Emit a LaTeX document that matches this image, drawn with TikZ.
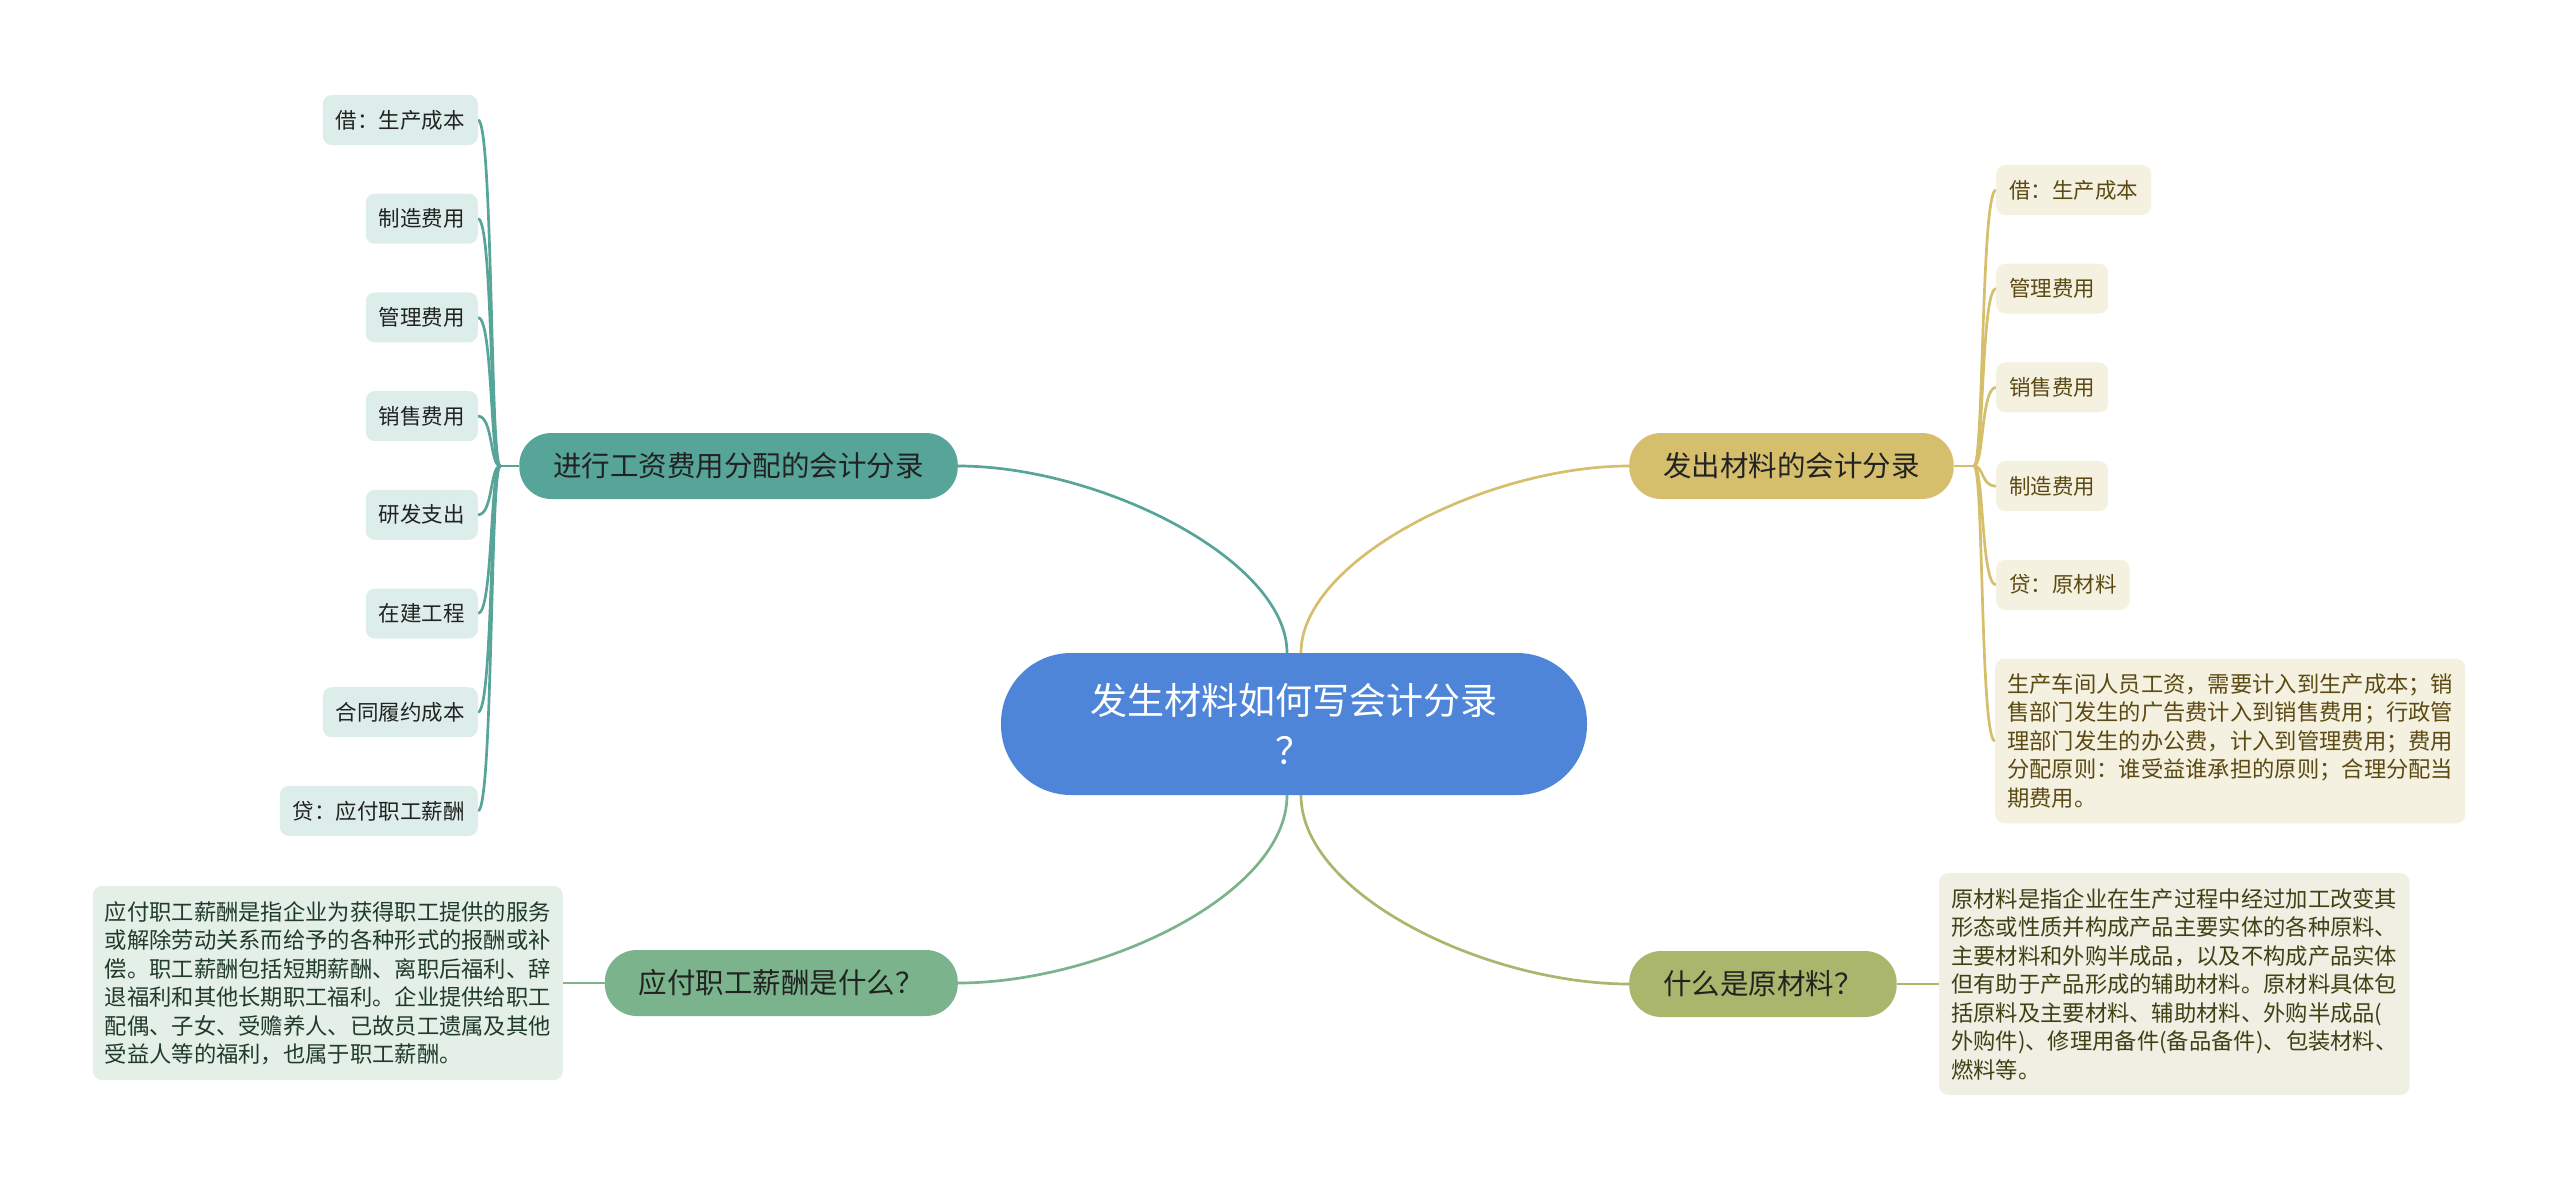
\documentclass[tikz,border=0pt]{standalone}
\usepackage{fontspec}
\usepackage{tikz}
\usetikzlibrary{positioning, backgrounds, calc}
\newfontfamily\cjk{Noto Sans CJK SC}
\definecolor{rootblue}{RGB}{78,133,216}
\definecolor{wageteal}{RGB}{87,164,152}
\definecolor{wagelight}{RGB}{221,237,234}
\definecolor{paygreen}{RGB}{122,179,140}
\definecolor{paylight}{RGB}{228,239,232}
\definecolor{issuegold}{RGB}{213,190,108}
\definecolor{issuelight}{RGB}{245,241,224}
\definecolor{rawolive}{RGB}{170,182,108}
\definecolor{rawlight}{RGB}{239,239,228}
\definecolor{textdark}{RGB}{34,34,34}
\definecolor{issuetext}{RGB}{92,74,20}
\definecolor{rawtext}{RGB}{62,66,19}
\definecolor{paytext}{RGB}{32,59,42}
\tikzset{
  rootnode/.style = {fill=rootblue, text=white, rounded corners=70pt,
                     minimum width=586pt, minimum height=142pt, align=center,
                     font=\cjk\fontsize{37}{50}\selectfont},
  branch/.style   = {rounded corners=32pt, minimum height=66pt, inner xsep=34pt,
                     text=textdark, font=\cjk\fontsize{28.5}{34}\selectfont},
  leaf/.style     = {rounded corners=9pt, minimum height=50pt, inner xsep=13pt,
                     font=\cjk\fontsize{21.5}{26}\selectfont},
  note/.style     = {rounded corners=9pt, inner xsep=12pt, inner ysep=15pt,
                     align=left, font=\cjk\fontsize{22.3}{28.5}\selectfont},
  link/.style     = {line width=2.7pt},
}

\begin{document}
\begin{tikzpicture}[x=1pt, y=-1pt, node distance=98.7pt, on grid,
  wleaf/.style={leaf, fill=wagelight, text=textdark},
  sleaf/.style={leaf, fill=issuelight, text=issuetext}]
  \useasboundingbox (0,0) rectangle (2560,1191);

  \node[rootnode] (root) at (1294,724) {发生材料如何写会计分录\\？};

  \node[branch, fill=wageteal, anchor=east] (br1) at (958,466) {进行工资费用分配的会计分录};
  \node[branch, fill=paygreen, anchor=east] (br2) at (958,983) {应付职工薪酬是什么？};
  \node[branch, fill=issuegold, anchor=west] (br3) at (1629,466) {发出材料的会计分录};
  \node[branch, fill=rawolive, anchor=west] (br4) at (1629,984) {什么是原材料？};

  \node[wleaf, anchor=east] (w1) at (478,120) {借：生产成本};
  \node[wleaf, below=of w1.east, anchor=east] (w2) {制造费用};
  \node[wleaf, below=of w2.east, anchor=east] (w3) {管理费用};
  \node[wleaf, below=of w3.east, anchor=east] (w4) {销售费用};
  \node[wleaf, below=of w4.east, anchor=east] (w5) {研发支出};
  \node[wleaf, below=of w5.east, anchor=east] (w6) {在建工程};
  \node[wleaf, below=of w6.east, anchor=east] (w7) {合同履约成本};
  \node[wleaf, below=of w7.east, anchor=east] (w8) {贷：应付职工薪酬};

  \node[sleaf, anchor=west] (s1) at (1996,190) {借：生产成本};
  \node[sleaf, below=of s1.west, anchor=west] (s2) {管理费用};
  \node[sleaf, below=of s2.west, anchor=west] (s3) {销售费用};
  \node[sleaf, below=of s3.west, anchor=west] (s4) {制造费用};
  \node[sleaf, below=of s4.west, anchor=west] (s5) {贷：原材料};
  \node[note, fill=issuelight, text=issuetext, anchor=west] (s6) at (1995,741)
    {生产车间人员工资，需要计入到生产成本；销\\
     售部门发生的广告费计入到销售费用；行政管\\
     理部门发生的办公费，计入到管理费用；费用\\
     分配原则：谁受益谁承担的原则；合理分配当\\
     期费用。};

  \node[note, fill=paylight, text=paytext, anchor=east] (paynote) at (563,983)
    {应付职工薪酬是指企业为获得职工提供的服务\\
     或解除劳动关系而给予的各种形式的报酬或补\\
     偿。职工薪酬包括短期薪酬、离职后福利、辞\\
     退福利和其他长期职工福利。企业提供给职工\\
     配偶、子女、受赡养人、已故员工遗属及其他\\
     受益人等的福利，也属于职工薪酬。};

  \node[note, fill=rawlight, text=rawtext, anchor=west] (rawnote) at (1939,984)
    {原材料是指企业在生产过程中经过加工改变其\\
     形态或性质并构成产品主要实体的各种原料、\\
     主要材料和外购半成品，以及不构成产品实体\\
     但有助于产品形成的辅助材料。原材料具体包\\
     括原料及主要材料、辅助材料、外购半成品(\\
     外购件)、修理用备件(备品备件)、包装材料、\\
     燃料等。};

  \coordinate (wj) at ($(br1.west)+(-19,0)$);
  \coordinate (sj) at ($(br3.east)+(20,0)$);

  \begin{scope}[on background layer]
    \draw[link, wageteal] (br1.east) .. controls +(142,0) and +(0,-93) .. ([xshift=-7pt]root.north);
    \draw[link, issuegold] ([xshift=7pt]root.north) .. controls +(0,-93) and +(-142,0) .. (br3.west);
    \draw[link, paygreen] ([xshift=-7pt]root.south) .. controls +(0,100) and +(142,0) .. (br2.east);
    \draw[link, rawolive] ([xshift=7pt]root.south) .. controls +(0,100) and +(-142,0) .. (br4.west);

    \draw[link, wageteal] (br1.west) -- (wj);
    \foreach \n in {1,...,8}
      \draw[link, wageteal] (wj) .. controls +(-10,0) and +(15,0) .. (w\n.east);
    \draw[link, issuegold] (br3.east) -- (sj);
    \foreach \n in {1,...,6}
      \draw[link, issuegold] (sj) .. controls +(10,0) and +(-15,0) .. (s\n.west);

    \draw[link, paygreen] (br2.west) -- (paynote.east);
    \draw[link, rawolive] (br4.east) -- (rawnote.west);
  \end{scope}
\end{tikzpicture}
\end{document}
